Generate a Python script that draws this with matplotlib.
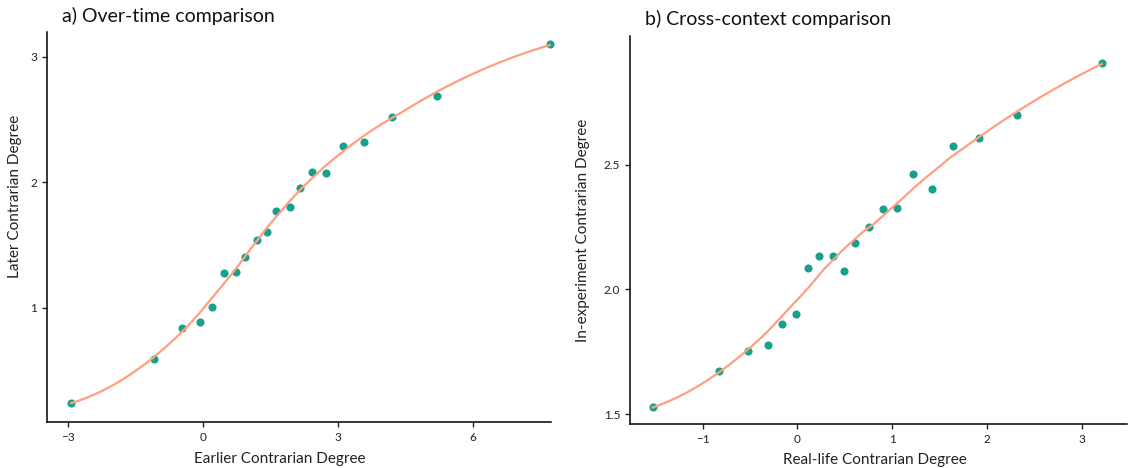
import numpy as np
import matplotlib
matplotlib.use("Agg")
import matplotlib.pyplot as plt

plt.rcParams['font.family'] = ['Lato', 'DejaVu Sans']

# panel a: over-time comparison
earlier = [-2.92, -1.09, -0.46, -0.06, 0.20, 0.48, 0.73, 0.95, 1.20, 1.42,
           1.63, 1.93, 2.16, 2.43, 2.74, 3.12, 3.58, 4.21, 5.21, 7.71]
later = [0.243, 0.591, 0.841, 0.888, 1.008, 1.274, 1.287, 1.404, 1.542, 1.603,
         1.770, 1.802, 1.956, 2.081, 2.076, 2.291, 2.317, 2.519, 2.689, 3.098]

# panel b: cross-context comparison
real_life = [-1.53, -0.83, -0.52, -0.31, -0.16, -0.02, 0.11, 0.23, 0.37, 0.49,
             0.61, 0.76, 0.90, 1.05, 1.22, 1.42, 1.64, 1.92, 2.32, 3.21]
in_exp = [1.530, 1.673, 1.753, 1.777, 1.861, 1.901, 2.085, 2.135, 2.132, 2.072,
          2.188, 2.251, 2.323, 2.327, 2.463, 2.402, 2.575, 2.606, 2.698, 2.907]

point_col = "#17A08C"
line_col = "#FF9F80"


def loess(x, y, grid, span=0.75):
    # local quadratic fit with tricube weights (like R's loess default)
    x = np.asarray(x, float)
    y = np.asarray(y, float)
    n = len(x)
    q = int(np.floor(n * span))
    out = []
    for g in grid:
        d = np.abs(x - g)
        h = np.sort(d)[q - 1]
        w = np.clip(1 - (d / h) ** 3, 0, None) ** 3
        X = np.column_stack([np.ones(n), x - g, (x - g) ** 2])
        W = np.diag(w)
        beta = np.linalg.lstsq(X.T @ W @ X, X.T @ W @ y, rcond=None)[0]
        out.append(beta[0])
    return np.array(out)


def panel(ax, x, y, title, xlabel, ylabel):
    grid = np.linspace(min(x), max(x), 200)
    ax.scatter(x, y, s=34, color=point_col, zorder=2, clip_on=False, linewidths=0)
    ax.plot(grid, loess(x, y, grid), color=line_col, lw=1.6, zorder=3, clip_on=False)
    for s in ["top", "right"]:
        ax.spines[s].set_visible(False)
    for s in ["left", "bottom"]:
        ax.spines[s].set_linewidth(1.1)
    ax.tick_params(length=3.5, width=1, labelsize=8.5, pad=3.5, colors="#222222")
    ax.set_xlabel(xlabel, fontsize=11, color="#222222", labelpad=3)
    ax.set_ylabel(ylabel, fontsize=11, color="#222222", labelpad=5)
    ax.text(0.03, 1.02, title, transform=ax.transAxes, fontsize=14,
            ha="left", va="bottom", color="#111111")


fig = plt.figure(figsize=(11.3, 4.68), dpi=100)
ax1 = fig.add_axes([0.0416, 0.0976, 0.446, 0.8333])
ax2 = fig.add_axes([0.5575, 0.094, 0.44, 0.829])

panel(ax1, earlier, later, "a) Over-time comparison",
      "Earlier Contrarian Degree", "Later Contrarian Degree")
ax1.set_xlim(-3.46, 7.74)
ax1.set_ylim(0.087, 3.194)
ax1.set_xticks([-3, 0, 3, 6])
ax1.set_yticks([1, 2, 3])
ax1.xaxis.set_label_coords(0.462, -0.075)
ax1.yaxis.set_label_coords(-0.05, 0.58)

panel(ax2, real_life, in_exp, "b) Cross-context comparison",
      "Real-life Contrarian Degree", "In-experiment Contrarian Degree")
ax2.set_xlim(-1.768, 3.48)
ax2.set_ylim(1.461, 3.015)
ax2.set_xticks([-1, 0, 1, 2, 3])
ax2.set_yticks([1.5, 2.0, 2.5])
ax2.set_yticklabels(["1.5", "2.0", "2.5"])
ax2.xaxis.set_label_coords(0.492, -0.075)
ax2.yaxis.set_label_coords(-0.08, 0.5)

fig.savefig("out.png", dpi=100)
